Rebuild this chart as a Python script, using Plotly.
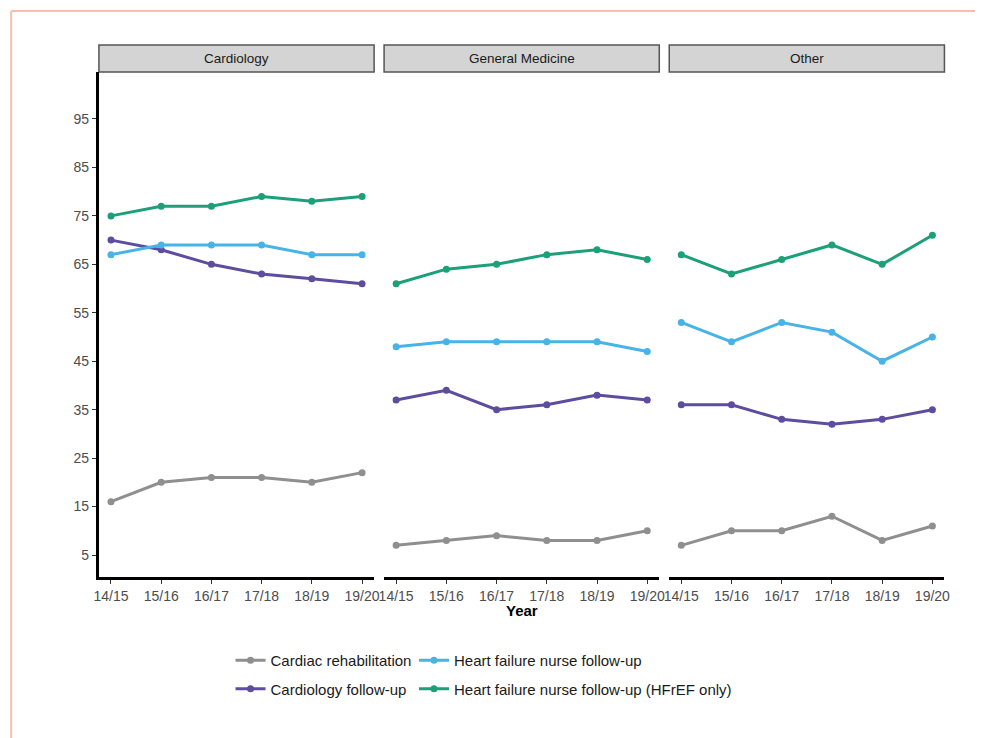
"""Follow-up and rehabilitation rates by specialty, faceted line chart."""

import plotly.graph_objects as go

W, H = 981, 738

years = ["14/15", "15/16", "16/17", "17/18", "18/19", "19/20"]
panels = ["Cardiology", "General Medicine", "Other"]
y_ticks = [5, 15, 25, 35, 45, 55, 65, 75, 85, 95]

series_names = [
    "Cardiac rehabilitation",
    "Cardiology follow-up",
    "Heart failure nurse follow-up",
    "Heart failure nurse follow-up (HFrEF only)",
]
series_colors = ["#8F8F8F", "#5E4C9F", "#47B3E6", "#1BA07A"]

cardiac_rehab = {
    "Cardiology": [16, 20, 21, 21, 20, 22],
    "General Medicine": [7, 8, 9, 8, 8, 10],
    "Other": [7, 10, 10, 13, 8, 11],
}
cardiology_fu = {
    "Cardiology": [70, 68, 65, 63, 62, 61],
    "General Medicine": [37, 39, 35, 36, 38, 37],
    "Other": [36, 36, 33, 32, 33, 35],
}
hf_nurse_fu = {
    "Cardiology": [67, 69, 69, 69, 67, 67],
    "General Medicine": [48, 49, 49, 49, 49, 47],
    "Other": [53, 49, 53, 51, 45, 50],
}
hf_nurse_hfref = {
    "Cardiology": [75, 77, 77, 79, 78, 79],
    "General Medicine": [61, 64, 65, 67, 68, 66],
    "Other": [67, 63, 66, 69, 65, 71],
}
all_series = [cardiac_rehab, cardiology_fu, hf_nurse_fu, hf_nurse_hfref]

# panel geometry in pixels (as measured on the target picture)
panel_x = [(97, 373), (383, 659), (669, 945)]
plot_top, plot_bottom = 72, 577
strip_top = 45


def px_x(v):
    # the page comes out slightly narrower than asked, so stretch a bit
    return ((v - 2.8) / 0.9917) / W


def px_y(v):
    return 1 - v / H


fig = go.Figure()

for p_idx, panel in enumerate(panels):
    xref = "x" if p_idx == 0 else f"x{p_idx + 1}"
    for s_idx, data in enumerate(all_series):
        fig.add_trace(
            go.Scatter(
                x=years,
                y=data[panel],
                xaxis=xref,
                yaxis="y",
                mode="lines+markers",
                name=series_names[s_idx],
                legendgroup=series_names[s_idx],
                showlegend=p_idx == 0,
                legend="legend" if s_idx in (0, 1) else "legend2",
                line=dict(color=series_colors[s_idx], width=3),
                marker=dict(color=series_colors[s_idx], size=7),
            )
        )

axis_font = dict(family="Liberation Sans, Arial", size=14, color="#4D4D4D")
y_domain = [px_y(plot_bottom), px_y(plot_top)]
legend_font = dict(size=15, color="#1A1A1A")

layout = dict(
    width=W,
    height=H,
    margin=dict(l=0, r=0, t=0, b=0),
    paper_bgcolor="white",
    plot_bgcolor="white",
    font=dict(family="Liberation Sans, Arial", color="#1A1A1A"),
    yaxis=dict(
        domain=y_domain,
        range=[0.46, 104.7],
        tickvals=y_ticks,
        showgrid=False,
        zeroline=False,
        showline=True,
        linecolor="black",
        linewidth=3,
        ticks="outside",
        ticklen=4,
        tickcolor="#333333",
        tickfont=axis_font,
        anchor="x",
    ),
    legend=dict(
        x=px_x(229),
        y=px_y(644),
        xanchor="left",
        yanchor="top",
        font=legend_font,
        tracegroupgap=6,
        bgcolor="rgba(0,0,0,0)",
    ),
    legend2=dict(
        x=px_x(413),
        y=px_y(644),
        xanchor="left",
        yanchor="top",
        font=legend_font,
        tracegroupgap=6,
        bgcolor="rgba(0,0,0,0)",
    ),
)

for p_idx, (x0, x1) in enumerate(panel_x):
    key = "xaxis" if p_idx == 0 else f"xaxis{p_idx + 1}"
    layout[key] = dict(
        domain=[px_x(x0), px_x(x1)],
        anchor="y",
        type="category",
        range=[-0.24, 5.24],
        showgrid=False,
        zeroline=False,
        showline=True,
        linecolor="black",
        linewidth=3,
        ticks="outside",
        ticklen=4,
        tickcolor="#333333",
        tickfont=axis_font,
    )

fig.update_layout(**layout)

shapes = []
annotations = []

# facet strips
for panel, (x0, x1) in zip(panels, panel_x):
    shapes.append(
        dict(
            type="rect",
            xref="paper",
            yref="paper",
            x0=px_x(x0),
            x1=px_x(x1),
            y0=px_y(plot_top),
            y1=px_y(strip_top),
            fillcolor="#D3D4D3",
            line=dict(color="#555555", width=1.5),
            layer="below",
        )
    )
    annotations.append(
        dict(
            text=panel,
            xref="paper",
            yref="paper",
            x=px_x((x0 + x1) / 2),
            y=px_y((plot_top + strip_top) / 2),
            xanchor="center",
            yanchor="middle",
            showarrow=False,
            font=dict(size=13.5, color="#1A1A1A"),
        )
    )

# x axis title
annotations.append(
    dict(
        text="<b>Year</b>",
        xref="paper",
        yref="paper",
        x=px_x((panel_x[0][0] + panel_x[-1][1]) / 2),
        y=px_y(610),
        xanchor="center",
        yanchor="middle",
        showarrow=False,
        font=dict(size=15, color="black"),
    )
)

# salmon frame around the figure
frame = dict(color="#F8BDAE", width=2)
shapes.append(dict(type="line", xref="paper", yref="paper",
                   x0=px_x(9), x1=1, y0=px_y(11), y1=px_y(11), line=frame))
shapes.append(dict(type="line", xref="paper", yref="paper",
                   x0=px_x(9), x1=px_x(9), y0=0, y1=px_y(11), line=frame))

fig.update_layout(shapes=shapes, annotations=annotations)

# drop the default page margin and scrollbars so the figure fills the window
page_fix = (
    "document.body.style.margin='0';"
    "document.body.style.overflow='hidden';"
    "document.documentElement.style.overflow='hidden';"
)
fig.write_html(
    "out.html",
    config={"displayModeBar": False},
    post_script=page_fix,
)
